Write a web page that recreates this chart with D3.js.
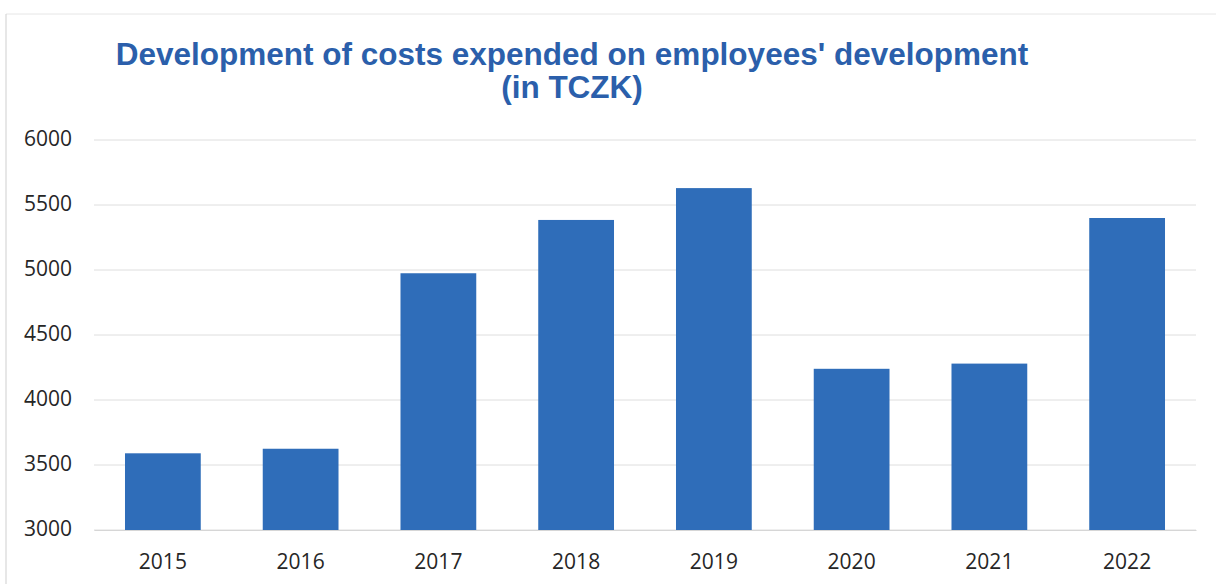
<!DOCTYPE html>
<html>
<head>
<meta charset="utf-8">
<script src="https://cdn.jsdelivr.net/npm/d3@7"></script>
<style>
  html, body { margin: 0; padding: 0; background: #fff; }
  svg { display: block; }
</style>
</head>
<body>
<div id="chart"></div>
<script>
// data
const years = ['2015', '2016', '2017', '2018', '2019', '2020', '2021', '2022'];
const costs = [3590, 3625, 4975, 5385, 5630, 4240, 4280, 5400];
const yTicks = [3000, 3500, 4000, 4500, 5000, 5500, 6000];
const titleLines = ["Development of costs expended on employees' development", '(in TCZK)'];

const width = 1216, height = 584;
const margin = { top: 140, right: 20, bottom: 54, left: 94 };

const svg = d3.select('#chart')
    .append('svg')
    .attr('width', width)
    .attr('height', height);

// faint frame of the scanned chart box
svg.append('line')
    .attr('x1', 6).attr('x2', width).attr('y1', 14).attr('y2', 14)
    .attr('stroke', '#e6e6e6').attr('stroke-width', 1);
svg.append('line')
    .attr('x1', 6).attr('x2', 6).attr('y1', 14).attr('y2', height)
    .attr('stroke', '#cfcfcf').attr('stroke-width', 1);

const x = d3.scaleBand()
    .domain(years)
    .range([margin.left, width - margin.right])
    .paddingInner(0.45)
    .paddingOuter(0.225);

const y = d3.scaleLinear()
    .domain([3000, 6000])
    .range([height - margin.bottom, margin.top]);

// gridlines
svg.append('g')
    .selectAll('line')
    .data(yTicks)
    .enter().append('line')
    .attr('x1', margin.left)
    .attr('x2', width - margin.right)
    .attr('y1', d => y(d))
    .attr('y2', d => y(d))
    .attr('stroke', '#dedede')
    .attr('stroke-width', 1);

// bars
svg.append('g')
    .selectAll('rect')
    .data(years)
    .enter().append('rect')
    .attr('x', d => x(d))
    .attr('width', x.bandwidth())
    .attr('y', (d, i) => y(costs[i]))
    .attr('height', (d, i) => y(3000) - y(costs[i]))
    .attr('fill', '#2f6db9');

// y axis labels
const yAxis = svg.append('g')
    .attr('transform', `translate(${margin.left},0)`)
    .call(d3.axisLeft(y).tickValues(yTicks).tickSize(0).tickPadding(22).tickFormat(d3.format('d')));
yAxis.select('.domain').remove();
yAxis.selectAll('text')
    .attr('font-family', 'Open Sans, sans-serif')
    .attr('font-size', '21px')
    .attr('dy', '0.28em')
    .attr('fill', '#262626');

// x axis labels
const xAxis = svg.append('g')
    .attr('transform', `translate(0,${height - margin.bottom})`)
    .call(d3.axisBottom(x).tickSize(0).tickPadding(24));
xAxis.select('.domain').attr('stroke', '#d6d6d6');
xAxis.selectAll('text')
    .attr('font-family', 'Open Sans, sans-serif')
    .attr('font-size', '21px')
    .attr('fill', '#262626');

// title
svg.append('g')
    .selectAll('text')
    .data(titleLines)
    .enter().append('text')
    .attr('x', 572)
    .attr('y', (d, i) => 65 + i * 33)
    .attr('text-anchor', 'middle')
    .attr('font-family', 'Liberation Sans, Arial, sans-serif')
    .attr('font-weight', 'bold')
    .attr('font-size', '31.5px')
    .attr('fill', '#2b5fab')
    .text(d => d);
</script>
</body>
</html>
